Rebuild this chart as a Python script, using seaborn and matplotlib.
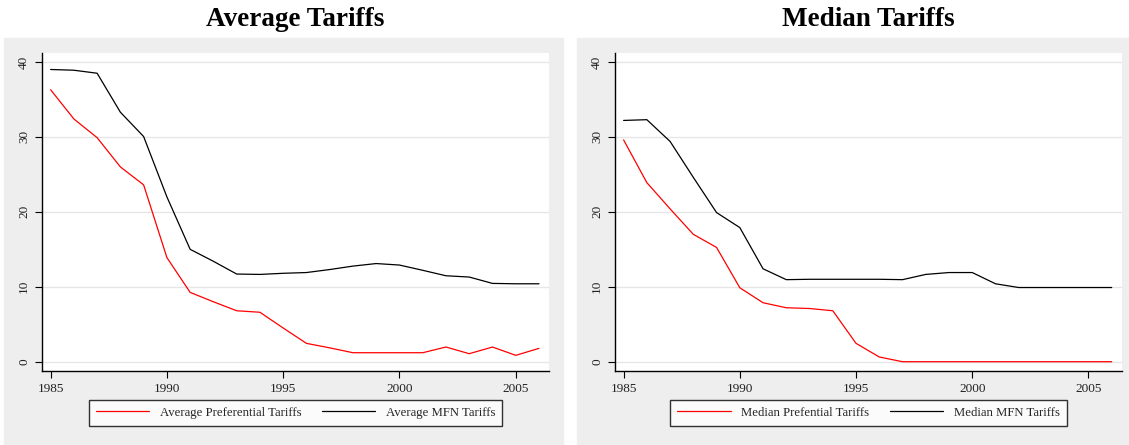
import numpy as np
import pandas as pd
import seaborn as sns
import matplotlib.pyplot as plt
from matplotlib.patches import Rectangle

# Dados
anos = list(range(1985, 2007))

media_pref = [36.3, 32.4, 29.9, 26.0, 23.6, 13.9, 9.25, 8.0, 6.8, 6.6, 4.5, 2.45,
              1.85, 1.2, 1.2, 1.2, 1.2, 1.96, 1.07, 1.96, 0.85, 1.78]
media_mfn = [39.0, 38.9, 38.5, 33.3, 30.05, 22.0, 15.0, 13.4, 11.7, 11.65, 11.8, 11.9,
             12.3, 12.76, 13.1, 12.9, 12.2, 11.47, 11.3, 10.45, 10.4, 10.4]

mediana_pref = [29.6, 23.9, 20.4, 17.0, 15.25, 9.87, 7.87, 7.2, 7.1, 6.8, 2.45, 0.63,
                0, 0, 0, 0, 0, 0, 0, 0, 0, 0]
mediana_mfn = [32.2, 32.3, 29.4, 24.6, 19.9, 17.9, 12.4, 10.95, 11.0, 11.0, 11.0, 11.0,
               10.95, 11.65, 11.9, 11.9, 10.4, 9.9, 9.9, 9.9, 9.9, 9.9]

titulos = ['Average Tariffs', 'Median Tariffs']
rotulos = [['Average Preferential Tariffs', 'Average MFN Tariffs'],
           ['Median Prefential Tariffs', 'Median MFN Tariffs']]
series = [[media_pref, media_mfn], [mediana_pref, mediana_mfn]]

sns.set_theme(style='white')
plt.rcParams['font.family'] = ['Liberation Serif', 'DejaVu Serif']

fig = plt.figure(figsize=(11.29, 4.45), dpi=100)
W, H = 1129, 445

# fundos cinza dos painéis
for x0, x1 in [(4, 563), (577, 1129)]:
    fig.patches.append(Rectangle((x0 / W, 0), (x1 - x0) / W, (H - 38) / H,
                                 transform=fig.transFigure, color='#eeeeee', zorder=-5))

posicoes = [(42, 549), (615, 1121.7)]
for i in range(2):
    xl, xr = posicoes[i]
    ax = fig.add_axes([xl / W, (H - 371) / H, (xr - xl) / W, (371 - 52.7) / H])
    ax.set_zorder(2)
    ax.set_facecolor('white')
    df = pd.DataFrame({'ano': anos, 'pref': series[i][0], 'mfn': series[i][1]})
    sns.lineplot(data=df, x='ano', y='pref', color='red', lw=0.9, label=rotulos[i][0], ax=ax)
    sns.lineplot(data=df, x='ano', y='mfn', color='black', lw=0.9, label=rotulos[i][1], ax=ax)

    ax.set_xlim(1984.63, 2006.43)
    ax.set_ylim(-1.24, 41.24)
    ax.set_xticks([1985, 1990, 1995, 2000, 2005])
    ax.set_yticks([0, 10, 20, 30, 40])
    ax.set_xticklabels([str(a) for a in [1985, 1990, 1995, 2000, 2005]], fontsize=9.5)
    ax.set_yticklabels(['0', '10', '20', '30', '40'], fontsize=9.5, rotation=90, va='center')
    ax.yaxis.grid(True, color='#e6e6e6', lw=1)
    ax.set_axisbelow(True)
    ax.set_xlabel('')
    ax.set_ylabel('')
    for s in ['top', 'right']:
        ax.spines[s].set_visible(False)
    for s in ['left', 'bottom']:
        ax.spines[s].set_color('black')
        ax.spines[s].set_linewidth(1.0)
    ax.tick_params(axis='both', which='major', direction='out', length=5, width=0.8,
                   color='black', labelcolor='#222222', bottom=True, left=True)

    leg = ax.legend(loc='center', bbox_to_anchor=(0.5, -0.131), ncol=2, frameon=True,
                    fancybox=False, edgecolor='black', fontsize=9.2, handlelength=4.2,
                    handletextpad=0.8, columnspacing=1.6, borderpad=0.55)
    leg.get_frame().set_linewidth(1.0)
    leg.get_frame().set_facecolor('white')

    fig.text((xl + xr) / 2 / W, 1 - 19 / H, titulos[i], ha='center', va='center',
             fontsize=19.5, fontweight='bold', color='black')

fig.savefig('out.png', dpi=100)
